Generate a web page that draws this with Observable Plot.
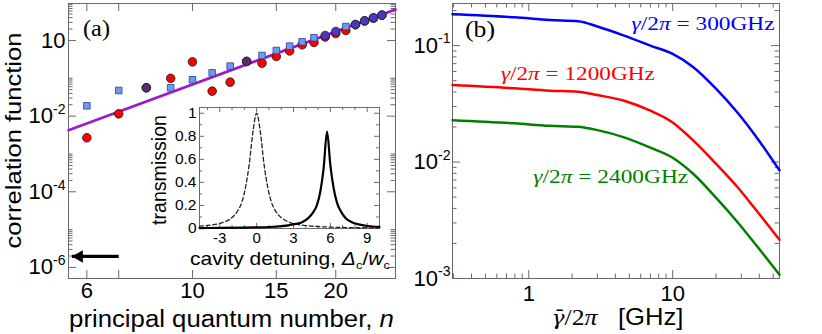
<!DOCTYPE html>
<html>
<head>
<meta charset="utf-8">
<script src="https://cdn.jsdelivr.net/npm/d3@7"></script>
<script src="https://cdn.jsdelivr.net/npm/@observablehq/plot@0.6"></script>
<style>
  html,body{margin:0;padding:0;background:#fff;}
  #wrap{position:relative;width:822px;height:334px;overflow:hidden;background:#fff;}
  #wrap svg{position:absolute;overflow:visible;}
  text{white-space:pre;}
</style>
</head>
<body>
<div id="wrap"></div>
<script>
// ---------- Panel (a): correlation function vs principal quantum number ----------
const nValues  = [6,7,8,9,10,11,12,13,14,15,16,17,18,19,20,21,22,23,24,25];
const redCorr  = [0.00268,0.0115,0.0562,0.100,0.272,0.0458,0.0791,0.279,0.252,0.378,0.528,0.768,0.885,1.237,1.531,1.838,2.596,3.28,3.894,4.674];
const blueCorr = [0.01875,0.0477,0.0562,0.0561,0.0914,0.1397,0.21,0.279,0.401,0.544,0.708,0.922,1.177,1.356,1.73,2.34,2.65,3.31,3.97,4.67];
const overlapN = [8,13,19,20,22,23,24,25];
const fitN     = [5.49, 26.7];
const fitCorr  = [0.00425, 6.6];
const arrowN   = [7.0, 5.58];
const arrowCorr = 1.95e-6;
const aXTicks = [6,10,15,20];
const aXTickLabels = ["6","10","15","20"];
const aXTickMarks = [6,7,10,15,20];
const aYTicks = [1,1e-2,1e-4,1e-6];
const aYTickLabels = ["10","10^-2","10^-4","10^-6"];

// ---------- Inset: transmission vs cavity detuning ----------
const detDashed   = [-4.65,-4,-3.5,-3,-2.5,-2,-1.5,-1.2,-0.9,-0.6,-0.3,0,0.3,0.6,0.9,1.2,1.5,2,2.5,3,3.5,4,5,6,7,8,9,10];
const transDashed = [0.02,0.026,0.033,0.045,0.062,0.095,0.16,0.23,0.36,0.56,0.84,1.0,0.84,0.56,0.36,0.23,0.16,0.095,0.062,0.042,0.032,0.025,0.017,0.012,0.009,0.007,0.006,0.005];
const detSolid    = [-4.65,-3,-1,0,1,2,2.7,3.2,3.7,4.2,4.6,4.9,5.2,5.45,5.73,6.0,6.25,6.55,6.85,7.25,7.75,8.3,9,10];
const transSolid  = [0.004,0.005,0.008,0.01,0.013,0.02,0.03,0.04,0.055,0.09,0.14,0.2,0.33,0.52,0.84,0.55,0.36,0.22,0.15,0.09,0.055,0.036,0.022,0.014];
const insetXTicks = [-3,0,3,6,9];
const insetXTickLabels = ["-3","0","3","6","9"];
const insetYTicks = [0,0.2,0.4,0.6,0.8,1];
const insetYTickLabels = ["0","0.2","0.4","0.6","0.8","1"];

// ---------- Panel (b): correlation vs dephasing rate ----------
const gammaBar = [0.295,0.8,1.4,2.2,3,4.6,7,10,14,20,28,38.5,55.3];
const corr300  = [0.186,0.175,0.166,0.162,0.146,0.122,0.1,0.0848,0.065,0.0427,0.0269,0.0162,0.0085];
const corr1200 = [0.0459,0.043,0.041,0.0402,0.0376,0.0336,0.0276,0.0219,0.0152,0.00968,0.00617,0.0038,0.00215];
const corr2400 = [0.0229,0.0215,0.0205,0.0201,0.0188,0.0163,0.0133,0.0109,0.00786,0.00495,0.00309,0.0019,0.00108];
const seriesRates = ["300GHz","1200GHz","2400GHz"];
const labelGamma = [16.4, 2.21, 3.74];
const labelCorr  = [0.1346, 0.05, 0.00652];
const bXTicks = [1,10,50];
const bXTickLabels = ["1","10","50"];
const bYTicks = [0.1,0.01,0.001];
const bYTickLabels = ["10^-1","10^-2","10^-3"];

// ---------- helpers ----------
const NS = "http://www.w3.org/2000/svg";
const wrap = document.getElementById("wrap");
const SANS = "'Liberation Sans', Arial, sans-serif";
const SERIF = "'Liberation Serif', 'Times New Roman', serif";
const DSERIF = "'DejaVu Serif', serif";
const GRAY = "#6a6a6a";

function fillSegs(t, segs, size) {
  let shift = 0;
  for (const s of segs) {
    const ts = document.createElementNS(NS, "tspan");
    ts.textContent = s.t;
    let target = 0, fs = size * (s.scale || 1);
    if (s.sup) { target = -0.42 * size; fs = 0.64 * size; }
    if (s.sub) { target = 0.22 * size; fs = 0.62 * size; }
    ts.setAttribute("font-size", fs);
    if (s.i) ts.setAttribute("font-style", "italic");
    if (s.f) ts.setAttribute("font-family", s.f);
    if (s.dx) ts.setAttribute("dx", s.dx * size);
    if (target !== shift) { ts.setAttribute("dy", target - shift); shift = target; }
    t.appendChild(ts);
  }
}
function richText(svg, segs, {x = 0, y = 0, anchor = "start", size = 20, family = SANS, fill = "#000", rotate = 0, width = null}) {
  const g = document.createElementNS(NS, "g");
  g.setAttribute("transform", `translate(${x},${y}) rotate(${rotate})`);
  const t = document.createElementNS(NS, "text");
  t.setAttribute("text-anchor", anchor);
  t.setAttribute("font-size", size);
  t.setAttribute("font-family", family);
  t.setAttribute("fill", fill);
  fillSegs(t, segs, size);
  g.appendChild(t);
  svg.appendChild(g);
  if (width) {
    const w = t.getBBox().width;
    if (w > 0) t.setAttribute("transform", `scale(${width / w},1)`);
  }
  return t;
}
function supTicks(svg) {
  svg.querySelectorAll("g[aria-label$='tick label'] text").forEach(t => {
    const m = t.textContent.match(/^(.*)\^(.*)$/);
    if (!m) return;
    const size = parseFloat(getComputedStyle(t).fontSize);
    while (t.firstChild) t.removeChild(t.firstChild);
    fillSegs(t, [{t: m[1]}, {t: m[2], sup: true}], size);
  });
}
function inDomain(vals, dom) {
  const lo = Math.min(...dom), hi = Math.max(...dom);
  return vals.filter(v => v >= lo - 1e-12 && v <= hi + 1e-12);
}
function frameTicks(xMaj, xMin, yMaj, yMin, fw, fh, maj, mn) {
  const s = {stroke: GRAY, strokeWidth: 1};
  const out = [];
  for (const [vals, len] of [[xMaj, maj], [xMin, mn]]) {
    out.push(Plot.tickX(vals, {x: d => d, insetTop: fh - len, ...s}));
    out.push(Plot.tickX(vals, {x: d => d, insetBottom: fh - len, ...s}));
  }
  for (const [vals, len] of [[yMaj, maj], [yMin, mn]]) {
    out.push(Plot.tickY(vals, {y: d => d, insetRight: fw - len, ...s}));
    out.push(Plot.tickY(vals, {y: d => d, insetLeft: fw - len, ...s}));
  }
  return out;
}
function logMinor(decades, dom) {
  const v = [];
  for (const k of decades) for (let m = 2; m <= 10; m++) v.push(m * Math.pow(10, k));
  return inDomain(v, dom);
}
function place(svg, left, top) {
  svg.style.left = left + "px";
  svg.style.top = top + "px";
  wrap.appendChild(svg);
}

// ---------- Panel (a) ----------
const A = {width: 410, height: 334, ml: 68, mr: 15, mt: 3, mb: 56};
const aFw = A.width - A.ml - A.mr, aFh = A.height - A.mt - A.mb;
const aXDomain = [5.49, 26.7], aYDomain = [5.1e-7, 9.5];
const pts = nValues.map((n, i) => ({n, red: redCorr[i], blue: blueCorr[i]}));
const fitRows = fitN.map((n, i) => ({n, c: fitCorr[i]}));
const leftHead = {draw(ctx, size) { const s = Math.sqrt(size / Math.PI); ctx.moveTo(0, 0); ctx.lineTo(2.2 * s, -1.25 * s); ctx.lineTo(2.2 * s, 1.25 * s); ctx.closePath(); }};

const plotA = Plot.plot({
  width: A.width, height: A.height,
  marginLeft: A.ml, marginRight: A.mr, marginTop: A.mt, marginBottom: A.mb,
  style: {fontFamily: SANS, color: "#000", background: "transparent"},
  x: {type: "log", domain: aXDomain},
  y: {type: "log", domain: aYDomain},
  marks: [
    ...frameTicks(inDomain(aXTickMarks, aXDomain), [], aYTicks,
                  logMinor([0, -2, -4, -6], aYDomain), aFw, aFh, 8, 4.5),
    Plot.frame({stroke: GRAY, strokeWidth: 1}),
    Plot.axisX({ticks: aXTicks, tickFormat: d => aXTickLabels[aXTicks.indexOf(d)], tickSize: 0, tickPadding: 4, fontSize: 22, label: null}),
    Plot.axisY({ticks: aYTicks, tickFormat: d => aYTickLabels[aYTicks.indexOf(d)], tickSize: 0, tickPadding: 3, fontSize: 22, label: null}),
    Plot.line(fitRows, {x: "n", y: "c", stroke: "#9a1ad0", strokeWidth: 2.7}),
    Plot.link([{x1: arrowN[0], x2: arrowN[1], y: arrowCorr}], {x1: "x1", x2: "x2", y1: "y", y2: "y", stroke: "#000", strokeWidth: 3.2}),
    Plot.dot([{n: arrowN[1], c: arrowCorr}], {x: "n", y: "c", symbol: leftHead, r: 5, fill: "#000", stroke: "none"}),
    Plot.dot(pts, {x: "n", y: "red", r: 4.3, fill: "#ff0000", stroke: "#1a1a1a", strokeWidth: 0.8}),
    Plot.dot(pts.filter(d => !overlapN.includes(d.n)), {x: "n", y: "blue", symbol: "square", r: 3.7, fill: "#6e9bef", stroke: "#2b3f8c", strokeWidth: 0.8}),
    Plot.dot(pts.filter(d => overlapN.includes(d.n) && d.n < 19), {x: "n", y: "blue", r: 4.3, fill: "#5a2b74", stroke: "#1a1a1a", strokeWidth: 0.8}),
    Plot.dot(pts.filter(d => overlapN.includes(d.n) && d.n >= 19), {x: "n", y: "blue", r: 4.3, fill: "#4b37bd", stroke: "#1a1a1a", strokeWidth: 0.8})
  ]
});
place(plotA, 0, 0);
supTicks(plotA);
richText(plotA, [{t: "(a)"}], {x: A.ml + 15, y: 35.5, size: 24, family: SERIF, width: 27});
richText(plotA, [{t: "correlation function"}], {x: 20.5, y: A.mt + aFh / 2, anchor: "middle", rotate: -90, size: 22, width: 216});
richText(plotA, [{t: "principal quantum number, "}, {t: "n", i: true}], {x: A.ml + aFw / 2, y: 326.5, anchor: "middle", size: 23, width: 325});

// ---------- Inset ----------
const I = {left: 145, top: 100, width: 242, height: 168, ml: 54, mr: 8, mt: 7, mb: 40};
const iFw = I.width - I.ml - I.mr, iFh = I.height - I.mt - I.mb;
const iXDomain = [-4.65, 10.0], iYDomain = [0, 1.05];
const dashedRows = detDashed.map((x, i) => ({x, y: transDashed[i]}));
const solidRows = detSolid.map((x, i) => ({x, y: transSolid[i]}));
const plotI = Plot.plot({
  width: I.width, height: I.height,
  marginLeft: I.ml, marginRight: I.mr, marginTop: I.mt, marginBottom: I.mb,
  style: {fontFamily: SANS, color: "#000", background: "transparent"},
  x: {domain: iXDomain},
  y: {domain: iYDomain},
  marks: [
    Plot.frame({fill: "#fff", stroke: "none"}),
    ...frameTicks(insetXTicks, inDomain(d3.range(-4, 11, 1), iXDomain).filter(v => !insetXTicks.includes(v)),
                  insetYTicks, [0.1, 0.3, 0.5, 0.7, 0.9], iFw, iFh, 5, 3),
    Plot.frame({stroke: GRAY, strokeWidth: 1}),
    Plot.axisX({ticks: insetXTicks, tickFormat: d => insetXTickLabels[insetXTicks.indexOf(d)], tickSize: 0, tickPadding: 4, fontSize: 15, label: null}),
    Plot.axisY({ticks: insetYTicks, tickFormat: d => insetYTickLabels[insetYTicks.indexOf(d)], tickSize: 0, tickPadding: 3, fontSize: 15.5, label: null}),
    Plot.line(dashedRows, {x: "x", y: "y", stroke: "#222", strokeWidth: 1.3, strokeDasharray: "4,2.7", curve: "monotone-x"}),
    Plot.line(solidRows, {x: "x", y: "y", stroke: "#000", strokeWidth: 2.2, curve: "monotone-x"})
  ]
});
place(plotI, I.left, I.top);
richText(plotI, [{t: "transmission"}], {x: 166 - I.left, y: 170 - I.top, anchor: "middle", rotate: -90, size: 19.5, width: 110});
richText(plotI, [{t: "cavity detuning, "}, {t: "Δ", i: true}, {t: "c", sub: true}, {t: "/"}, {t: "w", i: true}, {t: "c", sub: true}],
         {x: 290 - I.left, y: 264.5 - I.top, anchor: "middle", size: 19, width: 200});

// ---------- Panel (b) ----------
const B = {left: 410, width: 412, height: 334, ml: 42, mr: 43, mt: 3, mb: 56};
const bFw = B.width - B.ml - B.mr, bFh = B.height - B.mt - B.mb;
const bXDomain = [0.295, 55.3], bYDomain = [1e-3, 0.23];
const seriesCols = ["#0000ff", "#ff0000", "#008000"];
const seriesVals = [corr300, corr1200, corr2400];
const plotB = Plot.plot({
  width: B.width, height: B.height,
  marginLeft: B.ml, marginRight: B.mr, marginTop: B.mt, marginBottom: B.mb,
  style: {fontFamily: SANS, color: "#000", background: "transparent"},
  x: {type: "log", domain: bXDomain},
  y: {type: "log", domain: bYDomain},
  marks: [
    ...frameTicks(bXTicks.filter(v => v !== 50), logMinor([-1, 0, 1], bXDomain).filter(v => v !== 10 && v !== 1),
                  bYTicks, logMinor([-3, -2, -1], bYDomain).filter(v => !bYTicks.some(t => Math.abs(t - v) < 1e-12)), bFw, bFh, 8, 4.5),
    Plot.frame({stroke: GRAY, strokeWidth: 1}),
    Plot.axisX({ticks: bXTicks, tickFormat: d => bXTickLabels[bXTicks.indexOf(d)], tickSize: 0, tickPadding: 7, fontSize: 22, label: null}),
    Plot.axisY({ticks: bYTicks, tickFormat: d => bYTickLabels[bYTicks.indexOf(d)], tickSize: 0, tickPadding: 2, fontSize: 22, label: null}),
    ...seriesVals.map((vals, k) => Plot.line(gammaBar.map((g, i) => ({g, c: vals[i]})), {x: "g", y: "c", stroke: seriesCols[k], strokeWidth: 2.5, curve: "monotone-x"}))
  ]
});
place(plotB, B.left, 0);
supTicks(plotB);
const bx = plotB.scale("x"), by = plotB.scale("y");
const labelWidths = [143, 154, 155];
seriesRates.forEach((rate, k) => {
  richText(plotB, [{t: "γ", i: true}, {t: "/2"}, {t: "π", i: true}, {t: " = "}, {t: rate}],
           {x: bx.apply(labelGamma[k]), y: by.apply(labelCorr[k]), anchor: "middle", size: 18, family: SERIF, fill: seriesCols[k], width: labelWidths[k]});
});
richText(plotB, [{t: "(b)"}], {x: 465 - B.left, y: 36.5, size: 24, family: SERIF, width: 30});
richText(plotB, [{t: "γ\u0304", i: true, f: DSERIF, scale: 0.85}, {t: "/2", f: SERIF}, {t: "π", i: true, f: SERIF}, {t: "  [GHz]", f: SANS, dx: 0.25}],
         {x: 617.5 - B.left, y: 325, anchor: "middle", size: 23, family: SERIF, width: 132});
</script>
</body>
</html>
